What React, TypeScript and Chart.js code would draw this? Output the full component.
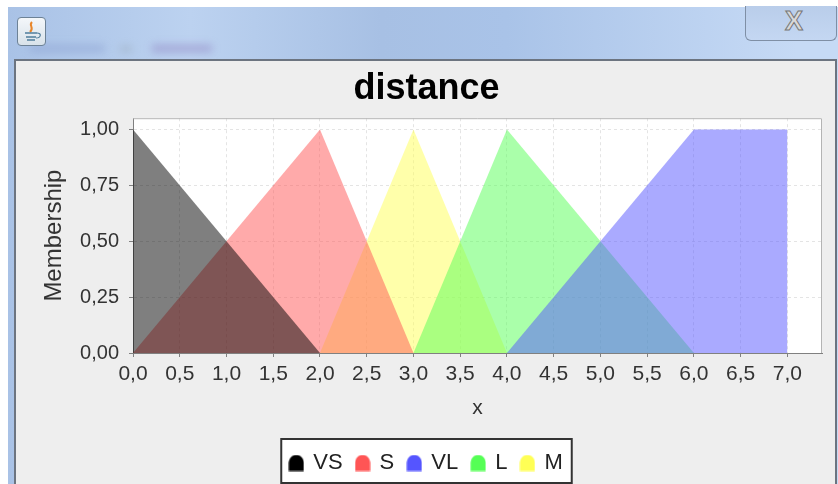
import React, { useEffect, useRef } from "react";
import { Chart, registerables } from "chart.js";

Chart.register(...registerables);

const chartTitle = "distance";
const xTitle = "x";
const yTitle = "Membership";

const vsPoints = [{ x: 0, y: 1 }, { x: 2, y: 0 }];
const sPoints = [{ x: 0, y: 0 }, { x: 2, y: 1 }, { x: 3, y: 0 }];
const vlPoints = [{ x: 4, y: 0 }, { x: 6, y: 1 }, { x: 7, y: 1 }, { x: 7, y: 0 }];
const lPoints = [{ x: 3, y: 0 }, { x: 4, y: 1 }, { x: 6, y: 0 }];
const mPoints = [{ x: 2, y: 0 }, { x: 3, y: 1 }, { x: 4, y: 0 }];

const seriesNames = ["VS", "S", "VL", "L", "M"];
const seriesColors = ["0,0,0", "255,85,85", "85,85,255", "85,255,85", "255,255,85"];
const seriesPoints = [vsPoints, sPoints, vlPoints, lPoints, mPoints];

const FONT = "'Liberation Sans', Arial, sans-serif";

function bell(rgb: string) {
  const c = document.createElement("canvas");
  c.width = 16;
  c.height = 17;
  const g = c.getContext("2d")!;
  g.fillStyle = `rgb(${rgb})`;
  g.beginPath();
  g.moveTo(0.5, 16.5);
  g.lineTo(0.5, 8);
  g.bezierCurveTo(1, 3, 4, 0.5, 8, 0.5);
  g.bezierCurveTo(12, 0.5, 15, 3, 15.5, 8);
  g.lineTo(15.5, 16.5);
  g.closePath();
  g.fill();
  return c;
}

const framePlugin = {
  id: "frame",
  beforeDraw(chart: any) {
    const g = chart.ctx;
    const items = chart.legend?.legendHitBoxes;
    const lg = chart.legend;
    if (items && items.length && lg) {
      const l = items[0].left - 9;
      const r = items[items.length - 1].left + items[items.length - 1].width + 9;
      g.save();
      g.fillStyle = "#ffffff";
      g.strokeStyle = "#333333";
      g.lineWidth = 2;
      g.fillRect(l, lg.top + 1, r - l, lg.height - 2);
      g.strokeRect(l, lg.top + 1, r - l, lg.height - 2);
      g.restore();
    }
    const a = chart.chartArea;
    g.save();
    g.fillStyle = "#ffffff";
    g.fillRect(a.left, a.top, a.right - a.left, a.bottom - a.top);
    g.restore();
  },
  afterDatasetsDraw(chart: any) {
    const g = chart.ctx;
    const a = chart.chartArea;
    g.save();
    g.strokeStyle = "#b4b4b4";
    g.lineWidth = 1;
    g.beginPath();
    g.moveTo(a.left, a.top + 0.5);
    g.lineTo(a.right - 0.5, a.top + 0.5);
    g.lineTo(a.right - 0.5, a.bottom);
    g.stroke();
    g.restore();
  },
};

const commaTick = (digits: number) => (v: any) => Number(v).toFixed(digits).replace(".", ",");

export default function App() {
  const ref = useRef<HTMLCanvasElement>(null);
  useEffect(() => {
    const grid = {
      color: "rgba(205,205,205,0.55)",
      tickColor: "#808080",
      tickLength: 4,
      lineWidth: 1,
    };
    const chart = new Chart(ref.current!, {
      type: "line",
      data: {
        datasets: seriesNames.map((name, i) => ({
          label: name,
          data: seriesPoints[i],
          parsing: false,
          backgroundColor: `rgba(${seriesColors[i]},0.5)`,
          borderWidth: 0,
          borderColor: "transparent",
          fill: "origin",
          tension: 0,
          pointRadius: 0,
          pointStyle: bell(seriesColors[i]),
        })),
      },
      plugins: [framePlugin],
      options: {
        animation: false,
        responsive: false,
        layout: { padding: { left: 15, right: 0, top: 0, bottom: 0 } },
        plugins: {
          tooltip: { enabled: false },
          title: {
            display: true,
            text: chartTitle,
            color: "#000000",
            font: { family: FONT, size: 36, weight: "bold", lineHeight: 1.2 },
            padding: { top: 67, bottom: 8 },
          },
          legend: {
            position: "bottom",
            labels: {
              usePointStyle: true,
              pointStyleWidth: 12,
              padding: 14,
              color: "#222222",
              font: { family: FONT, size: 22 },
            },
          },
        },
        scales: {
          x: {
            type: "linear",
            min: 0,
            max: 7.37,
            title: {
              display: true,
              text: xTitle,
              color: "#333333",
              font: { family: FONT, size: 21, lineHeight: 1.2 },
              padding: { top: 0, bottom: 17 },
            },
            ticks: {
              stepSize: 0.5,
              includeBounds: false,
              autoSkip: false,
              maxRotation: 0,
              color: "#333333",
              padding: 5,
              font: { family: FONT, size: 21 },
              callback: commaTick(1),
            },
            grid: { ...grid, borderDash: [3, 3] },
            border: { color: "#808080", width: 1, dash: [3, 3] },
            afterFit: (s: any) => { s.height = 85; },
          },
          y: {
            type: "linear",
            min: 0,
            max: 1.05,
            title: {
              display: true,
              text: yTitle,
              color: "#333333",
              font: { family: FONT, size: 24, lineHeight: 1.2 },
              padding: { top: 25, bottom: 0 },
            },
            ticks: {
              stepSize: 0.25,
              includeBounds: false,
              color: "#333333",
              padding: 10,
              font: { family: FONT, size: 20 },
              callback: commaTick(2),
            },
            grid,
            border: { color: "#808080", width: 1, dash: [3, 3] },
            afterFit: (s: any) => { s.width = 118; },
          },
          gutter: {
            type: "linear",
            position: "right",
            display: true,
            ticks: { display: false },
            grid: { display: false },
            border: { display: false },
            afterFit: (s: any) => { s.width = 16; },
          },
        },
      },
    } as any);
    return () => chart.destroy();
  }, []);

  const abs = (o: React.CSSProperties): React.CSSProperties => ({ position: "absolute", ...o });
  return (
    <div style={abs({ left: 0, top: 0, width: 838, height: 484, margin: 0, background: "#ffffff", overflow: "hidden" })}>
      <div style={abs({ left: 8, top: 7, width: 830, height: 477, background: "linear-gradient(90deg,#a9c2e6 0%,#bcd2f0 22%,#a7c0e4 45%,#a9c3e8 60%,#c6daf5 95%)" })} />
      <div style={abs({ left: 30, top: 45, width: 75, height: 7, background: "#8a9fd0", opacity: 0.55, filter: "blur(4px)" })} />
      <div style={abs({ left: 120, top: 46, width: 12, height: 6, background: "#9aa9b8", opacity: 0.55, filter: "blur(4px)" })} />
      <div style={abs({ left: 152, top: 45, width: 60, height: 7, background: "#8d7fc0", opacity: 0.55, filter: "blur(4px)" })} />
      <div style={abs({ left: 17, top: 17, width: 29, height: 29, boxSizing: "border-box", border: "1px solid #6d8296", borderRadius: 4, background: "linear-gradient(#f4f7fa,#d8e2ea)" })}>
        <svg width="27" height="27" viewBox="0 0 27 27">
          <path d="M14 4 C10 8 17 9 12 14" stroke="#e8862a" strokeWidth="2" fill="none" />
          <path d="M7 15 H19 M8 19 H18 M9 22 H17" stroke="#4f7d9c" strokeWidth="1.6" fill="none" />
          <path d="M19 15 C24 15 23 20 18 20" stroke="#4f7d9c" strokeWidth="1.2" fill="none" />
        </svg>
      </div>
      <div style={abs({ left: 745, top: 6, width: 92, height: 35, boxSizing: "border-box", border: "1px solid #7f8fa5", borderTop: "none", borderRadius: "0 0 6px 6px", background: "linear-gradient(#b9cdea,#c4d7f2)" })} />
      <div style={abs({ left: 779, top: 7, width: 30, height: 28, textAlign: "center", fontFamily: FONT, fontWeight: 700, fontSize: 27, lineHeight: "28px", color: "#d9d9d9", WebkitTextStroke: "1px #777777" } as React.CSSProperties)}>X</div>
      <div style={abs({ left: 14, top: 59, width: 823, height: 425, boxSizing: "border-box", border: "2px solid #6c7480", borderBottom: "none", background: "#eeeeee" })} />
      <canvas ref={ref} width={838} height={484} style={abs({ left: 0, top: 0, display: "block" })} />
    </div>
  );
}
